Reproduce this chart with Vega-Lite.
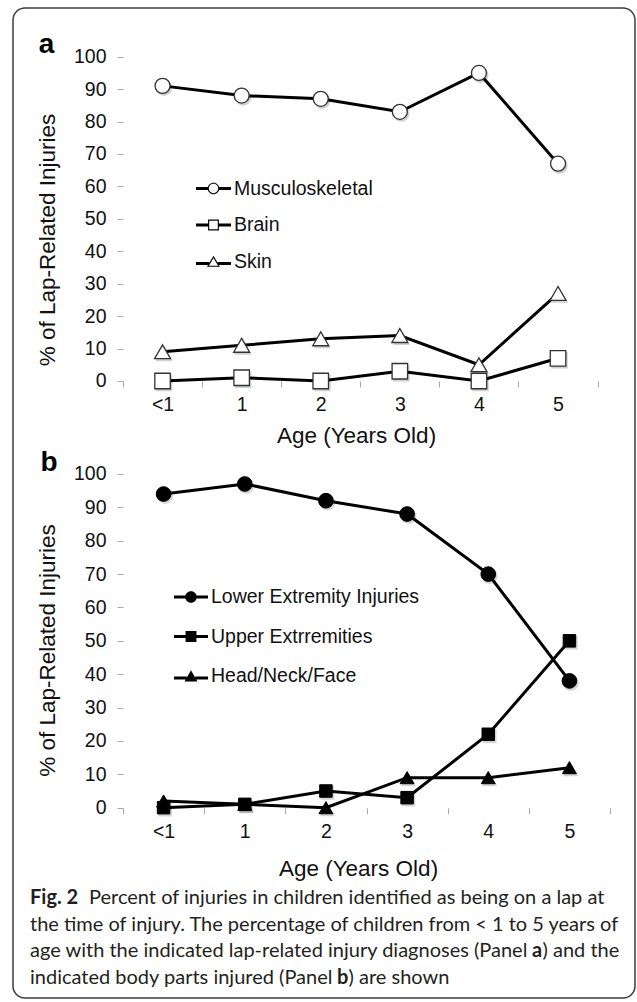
{
  "$schema": "https://vega.github.io/schema/vega-lite/v6.json",
  "width": 622,
  "height": 990,
  "autosize": {"type": "none"},
  "padding": {"left": 13, "top": 8, "right": 2, "bottom": 4},
  "background": "white",
  "config": {
    "font": "Liberation Sans",
    "view": {"stroke": "#3c3c3c", "strokeWidth": 1.5, "cornerRadius": 12}
  },
  "datasets": {
    "a": [
      {"age": 0, "series": "Musculoskeletal", "value": 91},
      {"age": 1, "series": "Musculoskeletal", "value": 88},
      {"age": 2, "series": "Musculoskeletal", "value": 87},
      {"age": 3, "series": "Musculoskeletal", "value": 83},
      {"age": 4, "series": "Musculoskeletal", "value": 95},
      {"age": 5, "series": "Musculoskeletal", "value": 67},
      {"age": 0, "series": "Brain", "value": 0},
      {"age": 1, "series": "Brain", "value": 1},
      {"age": 2, "series": "Brain", "value": 0},
      {"age": 3, "series": "Brain", "value": 3},
      {"age": 4, "series": "Brain", "value": 0},
      {"age": 5, "series": "Brain", "value": 7},
      {"age": 0, "series": "Skin", "value": 9},
      {"age": 1, "series": "Skin", "value": 11},
      {"age": 2, "series": "Skin", "value": 13},
      {"age": 3, "series": "Skin", "value": 14},
      {"age": 4, "series": "Skin", "value": 5},
      {"age": 5, "series": "Skin", "value": 27}
    ],
    "b": [
      {"age": 0, "series": "Lower Extremity Injuries", "value": 94},
      {"age": 1, "series": "Lower Extremity Injuries", "value": 97},
      {"age": 2, "series": "Lower Extremity Injuries", "value": 92},
      {"age": 3, "series": "Lower Extremity Injuries", "value": 88},
      {"age": 4, "series": "Lower Extremity Injuries", "value": 70},
      {"age": 5, "series": "Lower Extremity Injuries", "value": 38},
      {"age": 0, "series": "Upper Extrremities", "value": 0},
      {"age": 1, "series": "Upper Extrremities", "value": 1},
      {"age": 2, "series": "Upper Extrremities", "value": 5},
      {"age": 3, "series": "Upper Extrremities", "value": 3},
      {"age": 4, "series": "Upper Extrremities", "value": 22},
      {"age": 5, "series": "Upper Extrremities", "value": 50},
      {"age": 0, "series": "Head/Neck/Face", "value": 2},
      {"age": 1, "series": "Head/Neck/Face", "value": 1},
      {"age": 2, "series": "Head/Neck/Face", "value": 0},
      {"age": 3, "series": "Head/Neck/Face", "value": 9},
      {"age": 4, "series": "Head/Neck/Face", "value": 9},
      {"age": 5, "series": "Head/Neck/Face", "value": 12}
    ],
    "cap": [
      {"line": 1, "seg": "b1", "text": "Fig. 2"},
      {"line": 1, "seg": "n1", "text": "Percent of injuries in children identified as being on a lap at"},
      {"line": 2, "seg": "n0", "text": "the time of injury. The percentage of children from < 1 to 5 years of"},
      {"line": 3, "seg": "n0", "text": "age with the indicated lap-related injury diagnoses (Panel"},
      {"line": 3, "seg": "b3", "text": "a"},
      {"line": 3, "seg": "n3", "text": ") and the"},
      {"line": 4, "seg": "n0", "text": "indicated body parts injured (Panel"},
      {"line": 4, "seg": "b4", "text": "b"},
      {"line": 4, "seg": "n4", "text": ") are shown"}
    ]
  },
  "resolve": {
    "scale": {"x": "independent", "y": "independent", "shape": "independent"},
    "axis": {"x": "independent", "y": "independent"},
    "legend": {"shape": "independent"}
  },
  "layer": [
    {
      "data": {"name": "a"},
      "encoding": {
        "x": {
          "field": "age", "type": "quantitative",
          "scale": {"domain": [-1.8906, 5.9729], "nice": false, "zero": false},
          "axis": {
            "orient": "bottom", "offset": -617,
            "values": [-0.5, 0.5, 1.5, 2.5, 3.5, 4.5, 5.5],
            "labelExpr": "datum.value < 0 ? '<1' : (datum.value > 5 ? '' : format(datum.value + 0.5, 'd'))",
            "labelOffset": 39.55, "domain": false, "grid": false,
            "tickSize": 6, "tickColor": "#a8a8a8", "tickWidth": 1,
            "labelFont": "Liberation Sans", "labelFontSize": 19.5, "labelColor": "#111111",
            "labelPadding": 8, "labelFlush": false, "labelBound": false, "labelOverlap": false,
            "title": "Age (Years Old)", "titleFont": "Liberation Sans", "titleFontSize": 22.5,
            "titleFontWeight": "normal", "titleColor": "#111111",
            "titleX": 343, "titleY": 61.7, "titleAlign": "center", "titleBaseline": "alphabetic"
          }
        },
        "y": {
          "field": "value", "type": "quantitative",
          "scale": {"domain": [-190.26, 115.01], "nice": false, "zero": false},
          "axis": {
            "orient": "left", "offset": -110,
            "values": [0, 10, 20, 30, 40, 50, 60, 70, 80, 90, 100],
            "format": "d", "domain": false, "grid": false,
            "tickSize": 6, "tickColor": "#a8a8a8", "tickWidth": 1,
            "labelFont": "Liberation Sans", "labelFontSize": 19.5, "labelColor": "#111111",
            "labelPadding": 11, "labelFlush": false, "labelBound": false, "labelOverlap": false,
            "title": "% of Lap-Related Injuries", "titleFont": "Liberation Sans", "titleFontSize": 22.5,
            "titleFontWeight": "normal", "titleColor": "#111111",
            "titleX": -76, "titleY": 231.5, "titleAngle": 270, "titleAlign": "center", "titleBaseline": "middle"
          }
        }
      },
      "layer": [
        {
          "data": {"values": [{"k": 1}]},
          "mark": {"type": "rule", "color": "#a8a8a8", "strokeWidth": 1.2},
          "encoding": {"x": {"datum": -0.5, "type": "quantitative"}, "x2": {"datum": 5.5}, "y": {"datum": 0, "type": "quantitative"}}
        },
        {
          "data": {"values": [{"k": 1}]},
          "mark": {"type": "rule", "color": "#a8a8a8", "strokeWidth": 1.2},
          "encoding": {"x": {"datum": -0.5, "type": "quantitative"}, "y": {"datum": 0, "type": "quantitative"}, "y2": {"datum": 100}}
        },
        {
          "mark": {"type": "line", "color": "#000000", "strokeWidth": 3},
          "encoding": {"detail": {"field": "series", "type": "nominal"}}
        },
        {
          "transform": [{"filter": "datum.series == 'Musculoskeletal'"}],
          "mark": {"type": "point", "shape": "circle", "size": 260, "filled": true, "color": "#000000", "opacity": 0.18, "xOffset": 1.5, "yOffset": 2}
        },
        {
          "transform": [{"filter": "datum.series == 'Brain'"}],
          "mark": {"type": "point", "shape": "square", "size": 275, "filled": true, "color": "#000000", "opacity": 0.18, "xOffset": 1.5, "yOffset": 2}
        },
        {
          "transform": [{"filter": "datum.series == 'Skin'"}],
          "mark": {"type": "point", "shape": "triangle-up", "size": 295, "filled": true, "color": "#000000", "opacity": 0.18, "xOffset": 1.5, "yOffset": 2}
        },
        {
          "transform": [{"filter": "datum.series == 'Musculoskeletal'"}],
          "mark": {"type": "point", "shape": "circle", "size": 225, "filled": true, "fill": "white", "stroke": "#333333", "strokeWidth": 1.3, "opacity": 1}
        },
        {
          "transform": [{"filter": "datum.series == 'Brain'"}],
          "mark": {"type": "point", "shape": "square", "size": 240, "filled": true, "fill": "white", "stroke": "#333333", "strokeWidth": 1.3, "opacity": 1}
        },
        {
          "transform": [{"filter": "datum.series == 'Skin'"}],
          "mark": {"type": "point", "shape": "triangle-up", "size": 256, "filled": true, "fill": "white", "stroke": "#333333", "strokeWidth": 1.3, "opacity": 1}
        },
        {
          "mark": {"type": "point", "filled": true, "color": "#000000", "size": 1225, "opacity": 0},
          "encoding": {
            "shape": {
              "field": "series", "type": "nominal",
              "scale": {
                "domain": ["Musculoskeletal", "Brain", "Skin"],
                "range": [
                  "M-1,-0.086H-0.3V0.086H-1Z M0.3,-0.086H1V0.086H0.3Z M0.33,0A0.33,0.33,0,1,1,-0.33,0A0.33,0.33,0,1,1,0.33,0Z M0.265,0A0.265,0.265,0,1,0,-0.265,0A0.265,0.265,0,1,0,0.265,0Z",
                  "M-1,-0.086H-0.28V0.086H-1Z M0.28,-0.086H1V0.086H0.28Z M-0.31,-0.31H0.31V0.31H-0.31Z M-0.245,-0.245V0.245H0.245V-0.245Z",
                  "M-1,0.034H-0.24V0.206H-1Z M0.24,0.034H1V0.206H0.24Z M0,-0.33L0.37,0.3L-0.37,0.3Z M0,-0.205L-0.26,0.24L0.26,0.24Z"
                ]
              },
              "legend": {
                "orient": "none", "legendX": 182, "legendY": 162, "title": null,
                "labelFont": "Liberation Sans", "labelFontSize": 19.5, "labelColor": "#111111", "labelLimit": 0,
                "labelOffset": 2, "rowPadding": 8.5, "padding": 0,
                "symbolSize": 1225, "symbolOpacity": 1
              }
            }
          }
        }
      ]
    },
    {
      "data": {"name": "b"},
      "encoding": {
        "x": {
          "field": "age", "type": "quantitative",
          "scale": {"domain": [-1.8552, 5.8078], "nice": false, "zero": false},
          "axis": {
            "orient": "bottom", "offset": -190.3,
            "values": [-0.5, 0.5, 1.5, 2.5, 3.5, 4.5, 5.5],
            "labelExpr": "datum.value < 0 ? '<1' : (datum.value > 5 ? '' : format(datum.value + 0.5, 'd'))",
            "labelOffset": 40.585, "domain": false, "grid": false,
            "tickSize": 6, "tickColor": "#a8a8a8", "tickWidth": 1,
            "labelFont": "Liberation Sans", "labelFontSize": 19.5, "labelColor": "#111111",
            "labelPadding": 9, "labelFlush": false, "labelBound": false, "labelOverlap": false,
            "title": "Age (Years Old)", "titleFont": "Liberation Sans", "titleFontSize": 22.5,
            "titleFontWeight": "normal", "titleColor": "#111111",
            "titleX": 345, "titleY": 68, "titleAlign": "center", "titleBaseline": "alphabetic"
          }
        },
        "y": {
          "field": "value", "type": "quantitative",
          "scale": {"domain": [-57.03, 239.64], "nice": false, "zero": false},
          "axis": {
            "orient": "left", "offset": -110,
            "values": [0, 10, 20, 30, 40, 50, 60, 70, 80, 90, 100],
            "format": "d", "domain": false, "grid": false,
            "tickSize": 6, "tickColor": "#a8a8a8", "tickWidth": 1,
            "labelFont": "Liberation Sans", "labelFontSize": 19.5, "labelColor": "#111111",
            "labelPadding": 11, "labelFlush": false, "labelBound": false, "labelOverlap": false,
            "title": "% of Lap-Related Injuries", "titleFont": "Liberation Sans", "titleFontSize": 22.5,
            "titleFontWeight": "normal", "titleColor": "#111111",
            "titleX": -76, "titleY": 642, "titleAngle": 270, "titleAlign": "center", "titleBaseline": "middle"
          }
        }
      },
      "layer": [
        {
          "data": {"values": [{"k": 1}]},
          "mark": {"type": "rule", "color": "#a8a8a8", "strokeWidth": 1.2},
          "encoding": {"x": {"datum": -0.5, "type": "quantitative"}, "x2": {"datum": 5.5}, "y": {"datum": 0, "type": "quantitative"}}
        },
        {
          "data": {"values": [{"k": 1}]},
          "mark": {"type": "rule", "color": "#a8a8a8", "strokeWidth": 1.2},
          "encoding": {"x": {"datum": -0.5, "type": "quantitative"}, "y": {"datum": 0, "type": "quantitative"}, "y2": {"datum": 100}}
        },
        {
          "mark": {"type": "line", "color": "#000000", "strokeWidth": 3},
          "encoding": {"detail": {"field": "series", "type": "nominal"}}
        },
        {
          "transform": [{"filter": "datum.series == 'Lower Extremity Injuries'"}],
          "mark": {"type": "point", "shape": "circle", "size": 250, "filled": true, "color": "#000000", "opacity": 0.16, "xOffset": 1.5, "yOffset": 2}
        },
        {
          "transform": [{"filter": "datum.series == 'Upper Extrremities'"}],
          "mark": {"type": "point", "shape": "square", "size": 185, "filled": true, "color": "#000000", "opacity": 0.16, "xOffset": 1.5, "yOffset": 2}
        },
        {
          "transform": [{"filter": "datum.series == 'Head/Neck/Face'"}],
          "mark": {"type": "point", "shape": "triangle-up", "size": 230, "filled": true, "color": "#000000", "opacity": 0.16, "xOffset": 1.5, "yOffset": 2}
        },
        {
          "transform": [{"filter": "datum.series == 'Lower Extremity Injuries'"}],
          "mark": {"type": "point", "shape": "circle", "size": 216, "filled": true, "fill": "#000000", "stroke": "#000000", "strokeWidth": 1, "opacity": 1}
        },
        {
          "transform": [{"filter": "datum.series == 'Upper Extrremities'"}],
          "mark": {"type": "point", "shape": "square", "size": 156, "filled": true, "fill": "#000000", "stroke": "#000000", "strokeWidth": 1, "opacity": 1}
        },
        {
          "transform": [{"filter": "datum.series == 'Head/Neck/Face'"}],
          "mark": {"type": "point", "shape": "triangle-up", "size": 196, "filled": true, "fill": "#000000", "stroke": "#000000", "strokeWidth": 1, "opacity": 1}
        },
        {
          "mark": {"type": "point", "filled": true, "color": "#000000", "size": 1156, "opacity": 0},
          "encoding": {
            "shape": {
              "field": "series", "type": "nominal",
              "scale": {
                "domain": ["Lower Extremity Injuries", "Upper Extrremities", "Head/Neck/Face"],
                "range": [
                  "M-1,-0.09H-0.3V0.09H-1Z M0.3,-0.09H1V0.09H0.3Z M0.34,0A0.34,0.34,0,1,1,-0.34,0A0.34,0.34,0,1,1,0.34,0Z",
                  "M-1,-0.09H-0.3V0.09H-1Z M0.3,-0.09H1V0.09H0.3Z M-0.32,-0.32H0.32V0.32H-0.32Z",
                  "M-1,0.03H-0.25V0.21H-1Z M0.25,0.03H1V0.21H0.25Z M0,-0.34L0.38,0.32L-0.38,0.32Z"
                ]
              },
              "legend": {
                "orient": "none", "legendX": 160, "legendY": 571, "title": null,
                "labelFont": "Liberation Sans", "labelFontSize": 19.5, "labelColor": "#111111", "labelLimit": 0,
                "labelOffset": 2, "rowPadding": 11.5, "padding": 0,
                "symbolSize": 1156, "symbolOpacity": 1
              }
            }
          }
        }
      ]
    },
    {
      "data": {"name": "cap"},
      "encoding": {
        "x": {
          "datum": 17, "type": "quantitative",
          "scale": {"domain": [0, 622], "nice": false, "zero": false},
          "axis": {
            "orient": "bottom", "domain": false, "ticks": false, "labels": false, "grid": false,
            "title": "a", "titleFont": "Liberation Sans", "titleFontSize": 28, "titleFontWeight": "bold", "titleColor": "#000000",
            "titleX": 33, "titleY": -946, "titleAlign": "center", "titleBaseline": "alphabetic", "titleAngle": 0
          }
        },
        "y": {
          "field": "line", "type": "quantitative",
          "scale": {"domain": [-32.595, 4.525], "reverse": true, "nice": false, "zero": false},
          "axis": {
            "orient": "left", "domain": false, "ticks": false, "labels": false, "grid": false,
            "title": "b", "titleFont": "Liberation Sans", "titleFontSize": 28, "titleFontWeight": "bold", "titleColor": "#000000",
            "titleX": 35.5, "titleY": 462, "titleAlign": "center", "titleBaseline": "alphabetic", "titleAngle": 0
          }
        },
        "text": {"field": "text"}
      },
      "layer": [
        {
          "transform": [{"filter": "datum.seg == 'n0'"}],
          "mark": {"type": "text", "font": "Lato", "fontSize": 20, "align": "left", "baseline": "alphabetic", "color": "#231f20"}
        },
        {
          "transform": [{"filter": "datum.seg == 'b1'"}],
          "mark": {"type": "text", "font": "Lato", "fontSize": 20, "fontWeight": "bold", "align": "left", "baseline": "alphabetic", "color": "#231f20"}
        },
        {
          "transform": [{"filter": "datum.seg == 'n1'"}],
          "mark": {"type": "text", "font": "Lato", "fontSize": 20, "align": "left", "baseline": "alphabetic", "color": "#231f20"},
          "encoding": {"x": {"datum": 76, "type": "quantitative"}}
        },
        {
          "transform": [{"filter": "datum.seg == 'b3'"}],
          "mark": {"type": "text", "font": "Lato", "fontSize": 20, "fontWeight": "bold", "align": "left", "baseline": "alphabetic", "color": "#231f20"},
          "encoding": {"x": {"datum": 519, "type": "quantitative"}}
        },
        {
          "transform": [{"filter": "datum.seg == 'n3'"}],
          "mark": {"type": "text", "font": "Lato", "fontSize": 20, "align": "left", "baseline": "alphabetic", "color": "#231f20"},
          "encoding": {"x": {"datum": 529.5, "type": "quantitative"}}
        },
        {
          "transform": [{"filter": "datum.seg == 'b4'"}],
          "mark": {"type": "text", "font": "Lato", "fontSize": 20, "fontWeight": "bold", "align": "left", "baseline": "alphabetic", "color": "#231f20"},
          "encoding": {"x": {"datum": 324, "type": "quantitative"}}
        },
        {
          "transform": [{"filter": "datum.seg == 'n4'"}],
          "mark": {"type": "text", "font": "Lato", "fontSize": 20, "align": "left", "baseline": "alphabetic", "color": "#231f20"},
          "encoding": {"x": {"datum": 335.6, "type": "quantitative"}}
        }
      ]
    }
  ]
}
